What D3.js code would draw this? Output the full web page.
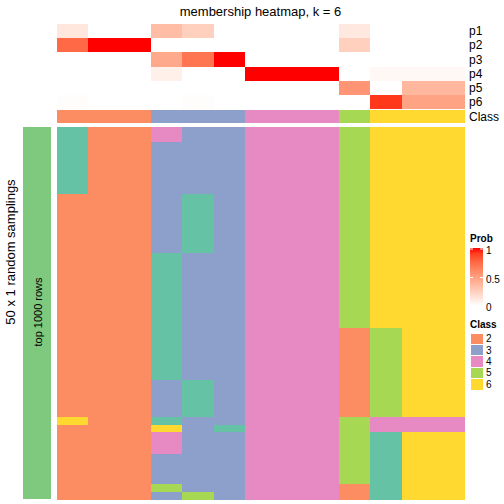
<!DOCTYPE html>
<html><head><meta charset="utf-8">
<script src="https://cdn.jsdelivr.net/npm/d3@7"></script>
<style>html,body{margin:0;padding:0;background:#fff;}svg{display:block;font-family:"Liberation Sans",Arial,sans-serif;}rect{shape-rendering:crispEdges;}</style>
</head><body>
<svg id="chart" width="504" height="504"></svg>
<script>
const columns = d3.range(13);
const probNames = ["p1","p2","p3","p4","p5","p6"];
const p1 = [0.13,0,0,0.35,0.25,0,0,0,0,0.12,0,0,0];
const p2 = [0.75,1,1,0,0,0,0,0,0,0.25,0,0,0];
const p3 = [0,0,0,0.45,0.7,1,0,0,0,0,0,0,0];
const p4 = [0,0,0,0.08,0,0,1,1,1,0,0.04,0.04,0.04];
const p5 = [0,0,0,0,0,0,0,0,0,0.55,0,0.38,0.38];
const p6 = [0.01,0,0,0,0.01,0,0,0,0,0,0.92,0.48,0.48];
const classRow = [2,2,2,3,3,3,4,4,4,5,6,6,6];
// 50 sampling rows, one class digit per column
const samplings = [
"1224334445666","1224334445666",
"1223334445666","1223334445666","1223334445666","1223334445666","1223334445666","1223334445666","1223334445666",
"2223134445666","2223134445666","2223134445666","2223134445666","2223134445666","2223134445666","2223134445666","2223134445666",
"2221334445666","2221334445666","2221334445666","2221334445666","2221334445666","2221334445666","2221334445666","2221334445666","2221334445666","2221334445666",
"2221334442566","2221334442566","2221334442566","2221334442566","2221334442566","2221334442566","2221334442566",
"2223134442566","2223134442566","2223134442566","2223134442566","2223134442566",
"6221334445444",
"2226314445444",
"2224334445166","2224334445166","2224334445166",
"2223334445166","2223334445166","2223334445166","2223334445166",
"2225334442166",
"2223534442166"
];
const legendClasses = [2,3,4,5,6];
const probTicks = [0,0.5,1];
const title = "membership heatmap, k = 6";

const classColor = d3.scaleOrdinal().domain([1,2,3,4,5,6])
  .range(["#66C2A5","#FC8D62","#8DA0CB","#E78AC3","#A6D854","#FFD92F"]);
const probColor = d3.scaleLinear().domain([0,1]).range(["#ffffff","#ff0000"]).interpolate(d3.interpolateLab);

const svg = d3.select("#chart");
const x = d3.scaleBand().domain(columns).range([57,464.5]);
const yTop = d3.scaleBand().domain(probNames).range([24,109]);
const yMain = d3.scaleBand().domain(d3.range(samplings.length)).range([127,499]);

const probs = [p1,p2,p3,p4,p5,p6];
probs.forEach((arr,i)=>{
  svg.append("g").selectAll("rect").data(arr).join("rect")
    .attr("x",(d,j)=>x(j)).attr("y",yTop(probNames[i]))
    .attr("width",x.bandwidth()+0.6).attr("height",yTop.bandwidth()+0.4)
    .attr("fill",d=>probColor(d));
});
svg.append("g").selectAll("rect").data(classRow).join("rect")
  .attr("x",(d,j)=>x(j)).attr("y",110).attr("width",x.bandwidth()+0.6).attr("height",13.3)
  .attr("fill",d=>classColor(d));

const cells = [];
samplings.forEach((s,r)=>{ s.split("").forEach((c,j)=>cells.push({r,j,v:+c})); });
svg.append("g").selectAll("rect").data(cells).join("rect")
  .attr("x",d=>x(d.j)).attr("y",d=>yMain(d.r))
  .attr("width",x.bandwidth()+0.6).attr("height",yMain.bandwidth()+0.6)
  .attr("fill",d=>classColor(d.v));

// row labels
svg.append("g").selectAll("text").data(probNames.concat(["Class"])).join("text")
  .attr("x",469)
  .attr("y",(d,i)=> i<6 ? yTop(d)+yTop.bandwidth()/2 : 116.5)
  .attr("dy","0.35em").attr("font-size",12).attr("fill","#000").text(d=>d);

// title
svg.append("text").attr("x",260.5).attr("y",16).attr("text-anchor","middle")
  .attr("font-size",13).text(title);

// left annotation bar
svg.append("rect").attr("x",23).attr("y",127).attr("width",28).attr("height",372).attr("fill","#7FC97F");
svg.append("text").attr("transform","translate(41.5,312) rotate(-90)").attr("text-anchor","middle")
  .attr("font-size",11).text("top 1000 rows");
svg.append("text").attr("transform","translate(15,252) rotate(-90)").attr("text-anchor","middle")
  .attr("font-size",13).text("50 x 1 random samplings");

// Prob legend
const defs = svg.append("defs");
const grad = defs.append("linearGradient").attr("id","pg").attr("x1",0).attr("y1",1).attr("x2",0).attr("y2",0);
d3.range(0,1.01,0.1).forEach(t=>grad.append("stop").attr("offset",t).attr("stop-color",probColor(t)));
svg.append("text").attr("x",470).attr("y",242).attr("font-size",10).attr("font-weight","bold").text("Prob");
const py = d3.scaleLinear().domain([0,1]).range([306,249]);
svg.append("rect").attr("x",470).attr("y",248).attr("width",13).attr("height",58).attr("fill","url(#pg)");
probTicks.forEach(t=>{
  svg.append("line").attr("x1",470).attr("x2",473).attr("y1",py(t)).attr("y2",py(t)).attr("stroke","#fff").attr("stroke-width",1);
  svg.append("line").attr("x1",480).attr("x2",483).attr("y1",py(t)).attr("y2",py(t)).attr("stroke","#fff").attr("stroke-width",1);
  svg.append("text").attr("x",486).attr("y",py(t)+1.5).attr("dy","0.35em").attr("font-size",10).text(t);
});

// Class legend
svg.append("text").attr("x",470).attr("y",327.5).attr("font-size",10).attr("font-weight","bold").text("Class");
const ly = d3.scaleBand().domain(legendClasses).range([333,390]);
svg.append("g").selectAll("rect").data(legendClasses).join("rect")
  .attr("x",470).attr("y",d=>ly(d)).attr("width",13).attr("height",ly.bandwidth())
  .attr("fill",d=>classColor(d)).attr("stroke","#fff").attr("stroke-width",1);
svg.append("g").selectAll("text").data(legendClasses).join("text")
  .attr("x",486).attr("y",d=>ly(d)+ly.bandwidth()/2).attr("dy","0.35em").attr("font-size",10).text(d=>d);
</script>
</body></html>
